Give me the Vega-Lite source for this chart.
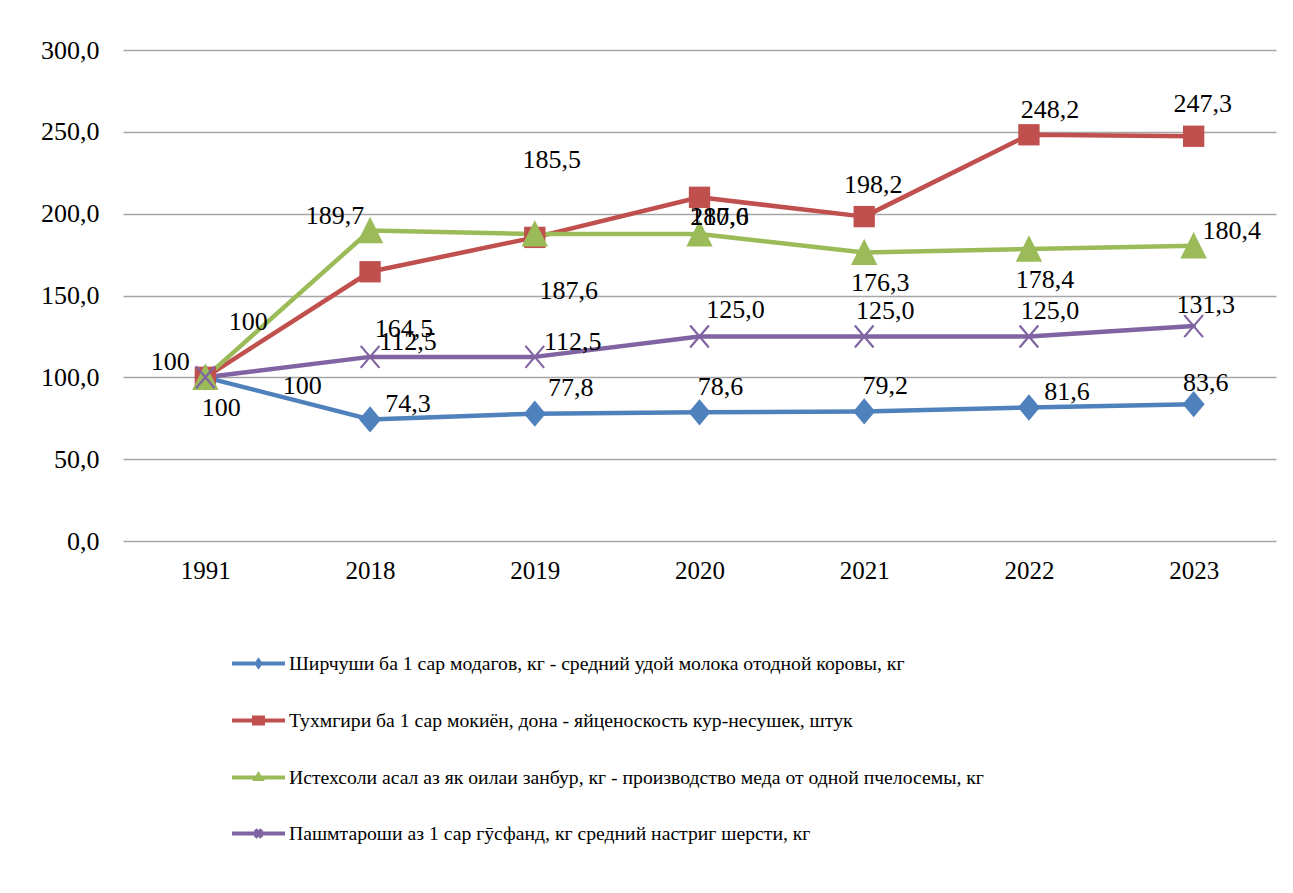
{
  "$schema": "https://vega.github.io/schema/vega-lite/v6.json",
  "autosize": "none",
  "width": 1153,
  "height": 491,
  "padding": {"left": 123, "top": 50, "right": 17, "bottom": 352},
  "background": "white",
  "config": {
    "view": {"stroke": null},
    "font": "Times New Roman, Liberation Serif, serif",
    "axis": {"labelFont": "Times New Roman, Liberation Serif, serif", "labelColor": "#000000"},
    "legend": {"labelFont": "Times New Roman, Liberation Serif, serif"},
    "text": {"font": "Times New Roman, Liberation Serif, serif"}
  },
  "data": {
    "values": [
      {"series": "Ширчуши ба 1 сар модагов, кг - средний удой молока отодной коровы, кг", "year": "1991", "value": 100, "label": "100", "pos": "e1"},
      {"series": "Ширчуши ба 1 сар модагов, кг - средний удой молока отодной коровы, кг", "year": "2018", "value": 74.3, "label": "74,3", "pos": "ne1"},
      {"series": "Ширчуши ба 1 сар модагов, кг - средний удой молока отодной коровы, кг", "year": "2019", "value": 77.8, "label": "77,8", "pos": "ne2"},
      {"series": "Ширчуши ба 1 сар модагов, кг - средний удой молока отодной коровы, кг", "year": "2020", "value": 78.6, "label": "78,6", "pos": "n1"},
      {"series": "Ширчуши ба 1 сар модагов, кг - средний удой молока отодной коровы, кг", "year": "2021", "value": 79.2, "label": "79,2", "pos": "n1"},
      {"series": "Ширчуши ба 1 сар модагов, кг - средний удой молока отодной коровы, кг", "year": "2022", "value": 81.6, "label": "81,6", "pos": "ne1"},
      {"series": "Ширчуши ба 1 сар модагов, кг - средний удой молока отодной коровы, кг", "year": "2023", "value": 83.6, "label": "83,6", "pos": "n2"},
      {"series": "Тухмгири ба 1 сар мокиён, дона - яйценоскость кур-несушек, штук", "year": "1991", "value": 100, "label": "100", "pos": "s1"},
      {"series": "Тухмгири ба 1 сар мокиён, дона - яйценоскость кур-несушек, штук", "year": "2018", "value": 164.5, "label": "164,5", "pos": "s2"},
      {"series": "Тухмгири ба 1 сар мокиён, дона - яйценоскость кур-несушек, штук", "year": "2019", "value": 185.5, "label": "185,5", "pos": "n4"},
      {"series": "Тухмгири ба 1 сар мокиён, дона - яйценоскость кур-несушек, штук", "year": "2020", "value": 210.0, "label": "210,0", "pos": "se1"},
      {"series": "Тухмгири ба 1 сар мокиён, дона - яйценоскость кур-несушек, штук", "year": "2021", "value": 198.2, "label": "198,2", "pos": "n3"},
      {"series": "Тухмгири ба 1 сар мокиён, дона - яйценоскость кур-несушек, штук", "year": "2022", "value": 248.2, "label": "248,2", "pos": "n1"},
      {"series": "Тухмгири ба 1 сар мокиён, дона - яйценоскость кур-несушек, штук", "year": "2023", "value": 247.3, "label": "247,3", "pos": "n3"},
      {"series": "Истехсоли асал аз як оилаи занбур, кг - производство меда от одной пчелосемы, кг", "year": "1991", "value": 100, "label": "100", "pos": "ne4"},
      {"series": "Истехсоли асал аз як оилаи занбур, кг - производство меда от одной пчелосемы, кг", "year": "2018", "value": 189.7, "label": "189,7", "pos": "w1"},
      {"series": "Истехсоли асал аз як оилаи занбур, кг - производство меда от одной пчелосемы, кг", "year": "2019", "value": 187.6, "label": "187,6", "pos": "s2"},
      {"series": "Истехсоли асал аз як оилаи занбур, кг - производство меда от одной пчелосемы, кг", "year": "2020", "value": 187.6, "label": "187,6", "pos": "ne3"},
      {"series": "Истехсоли асал аз як оилаи занбур, кг - производство меда от одной пчелосемы, кг", "year": "2021", "value": 176.3, "label": "176,3", "pos": "s1"},
      {"series": "Истехсоли асал аз як оилаи занбур, кг - производство меда от одной пчелосемы, кг", "year": "2022", "value": 178.4, "label": "178,4", "pos": "s1"},
      {"series": "Истехсоли асал аз як оилаи занбур, кг - производство меда от одной пчелосемы, кг", "year": "2023", "value": 180.4, "label": "180,4", "pos": "ne1"},
      {"series": "Пашмтароши аз 1 сар гӯсфанд, кг средний настриг шерсти, кг", "year": "1991", "value": 100, "label": "100", "pos": "w1"},
      {"series": "Пашмтароши аз 1 сар гӯсфанд, кг средний настриг шерсти, кг", "year": "2018", "value": 112.5, "label": "112,5", "pos": "ne1"},
      {"series": "Пашмтароши аз 1 сар гӯсфанд, кг средний настриг шерсти, кг", "year": "2019", "value": 112.5, "label": "112,5", "pos": "ne1"},
      {"series": "Пашмтароши аз 1 сар гӯсфанд, кг средний настриг шерсти, кг", "year": "2020", "value": 125.0, "label": "125,0", "pos": "ne2"},
      {"series": "Пашмтароши аз 1 сар гӯсфанд, кг средний настриг шерсти, кг", "year": "2021", "value": 125.0, "label": "125,0", "pos": "n1"},
      {"series": "Пашмтароши аз 1 сар гӯсфанд, кг средний настриг шерсти, кг", "year": "2022", "value": 125.0, "label": "125,0", "pos": "n1"},
      {"series": "Пашмтароши аз 1 сар гӯсфанд, кг средний настриг шерсти, кг", "year": "2023", "value": 131.3, "label": "131,3", "pos": "n2"}
    ]
  },
  "encoding": {
    "x": {
      "field": "year",
      "type": "ordinal",
      "scale": {"type": "point", "padding": 0.5},
      "axis": {
        "title": null,
        "labelAngle": 0,
        "labelFontSize": 25,
        "labelPadding": 17,
        "labelBaseline": "top",
        "ticks": false,
        "domain": false,
        "grid": false
      }
    },
    "y": {
      "field": "value",
      "type": "quantitative",
      "scale": {"domain": [0, 300], "nice": false, "zero": true},
      "axis": {
        "title": null,
        "values": [0, 50, 100, 150, 200, 250, 300],
        "labelExpr": "replace(format(datum.value, '.1f'), '.', ',')",
        "labelFontSize": 26,
        "labelPadding": 24,
        "ticks": false,
        "domain": false,
        "grid": true,
        "gridColor": "#A6A6A6",
        "gridWidth": 1.3
      }
    }
  },
  "layer": [
    {
      "mark": {"type": "line", "strokeWidth": 4.5, "strokeJoin": "round", "strokeCap": "round"},
      "encoding": {
        "color": {
          "field": "series",
          "type": "nominal",
          "scale": {
            "domain": [
              "Ширчуши ба 1 сар модагов, кг - средний удой молока отодной коровы, кг",
              "Тухмгири ба 1 сар мокиён, дона - яйценоскость кур-несушек, штук",
              "Истехсоли асал аз як оилаи занбур, кг - производство меда от одной пчелосемы, кг",
              "Пашмтароши аз 1 сар гӯсфанд, кг средний настриг шерсти, кг"
            ],
            "range": ["#4F81BD", "#C0504D", "#9BBB59", "#8064A2"]
          },
          "legend": {
            "title": null,
            "orient": "none",
            "legendX": 107,
            "legendY": 585,
            "direction": "vertical",
            "padding": 0,
            "symbolSize": 2809,
            "symbolStrokeWidth": 4,
            "labelFontSize": 19.7,
            "labelColor": "#000000",
            "labelOffset": 2,
            "labelLimit": 1000,
            "rowPadding": 17,
            "encode": {
              "symbols": {
                "update": {
                  "shape": {"signal": "['M-1,0H1M0,-0.1L0.07,0L0,0.1L-0.07,0Z','M-1,0H1M-0.17,-0.11H0.17V0.11H-0.17Z','M-1,0H1M0,-0.1L0.1,0.06L-0.1,0.06Z','M-1,0H1M-0.12,-0.15L0.12,0.15M-0.12,0.15L0.12,-0.15'][indexof(domain('color'), datum.value)]"},
                  "fill": {"signal": "scale('color', datum.value)"},
                  "stroke": {"signal": "scale('color', datum.value)"},
                  "strokeWidth": {"value": 4},
                  "opacity": {"value": 1},
                  "fillOpacity": {"value": 1}
                }
              }
            }
          }
        }
      }
    },
    {
      "transform": [{"filter": "datum.series === 'Ширчуши ба 1 сар модагов, кг - средний удой молока отодной коровы, кг'"}],
      "mark": {"type": "point", "filled": true, "opacity": 1, "size": 484, "color": "#4F81BD", "shape": "M0,-1.2L1,0L0,1.2L-1,0Z"}
    },
    {
      "transform": [{"filter": "datum.series === 'Тухмгири ба 1 сар мокиён, дона - яйценоскость кур-несушек, штук'"}],
      "mark": {"type": "point", "filled": true, "opacity": 1, "size": 484, "color": "#C0504D", "shape": "M-0.97,-0.97H0.97V0.97H-0.97Z"}
    },
    {
      "transform": [{"filter": "datum.series === 'Истехсоли асал аз як оилаи занбур, кг - производство меда от одной пчелосемы, кг'"}],
      "mark": {"type": "point", "filled": true, "opacity": 1, "size": 484, "color": "#9BBB59", "shape": "M0,-1.25L1.2,1.15L-1.2,1.15Z"}
    },
    {
      "transform": [{"filter": "datum.series === 'Пашмтароши аз 1 сар гӯсфанд, кг средний настриг шерсти, кг'"}],
      "mark": {"type": "point", "filled": false, "opacity": 1, "size": 484, "strokeWidth": 2.2, "color": "#8064A2", "shape": "M-0.85,-1L0.85,1M-0.85,1L0.85,-1"}
    },
    {
      "transform": [{"filter": "datum.pos === 'ne1'"}],
      "mark": {"type": "text", "fontSize": 26, "color": "#000000", "align": "center", "baseline": "middle", "dx": 38, "dy": -15},
      "encoding": {"text": {"field": "label"}}
    },
    {
      "transform": [{"filter": "datum.pos === 'ne2'"}],
      "mark": {"type": "text", "fontSize": 26, "color": "#000000", "align": "center", "baseline": "middle", "dx": 36, "dy": -26},
      "encoding": {"text": {"field": "label"}}
    },
    {
      "transform": [{"filter": "datum.pos === 'n1'"}],
      "mark": {"type": "text", "fontSize": 26, "color": "#000000", "align": "center", "baseline": "middle", "dx": 21, "dy": -25},
      "encoding": {"text": {"field": "label"}}
    },
    {
      "transform": [{"filter": "datum.pos === 'n2'"}],
      "mark": {"type": "text", "fontSize": 26, "color": "#000000", "align": "center", "baseline": "middle", "dx": 12, "dy": -21},
      "encoding": {"text": {"field": "label"}}
    },
    {
      "transform": [{"filter": "datum.pos === 'n3'"}],
      "mark": {"type": "text", "fontSize": 26, "color": "#000000", "align": "center", "baseline": "middle", "dx": 9, "dy": -32},
      "encoding": {"text": {"field": "label"}}
    },
    {
      "transform": [{"filter": "datum.pos === 'se1'"}],
      "mark": {"type": "text", "fontSize": 26, "color": "#000000", "align": "center", "baseline": "middle", "dx": 20, "dy": 20},
      "encoding": {"text": {"field": "label"}}
    },
    {
      "transform": [{"filter": "datum.pos === 'ne3'"}],
      "mark": {"type": "text", "fontSize": 26, "color": "#000000", "align": "center", "baseline": "middle", "dx": 20, "dy": -17},
      "encoding": {"text": {"field": "label"}}
    },
    {
      "transform": [{"filter": "datum.pos === 's1'"}],
      "mark": {"type": "text", "fontSize": 26, "color": "#000000", "align": "center", "baseline": "middle", "dx": 16, "dy": 31},
      "encoding": {"text": {"field": "label"}}
    },
    {
      "transform": [{"filter": "datum.pos === 's2'"}],
      "mark": {"type": "text", "fontSize": 26, "color": "#000000", "align": "center", "baseline": "middle", "dx": 34, "dy": 57},
      "encoding": {"text": {"field": "label"}}
    },
    {
      "transform": [{"filter": "datum.pos === 'n4'"}],
      "mark": {"type": "text", "fontSize": 26, "color": "#000000", "align": "center", "baseline": "middle", "dx": 17, "dy": -77},
      "encoding": {"text": {"field": "label"}}
    },
    {
      "transform": [{"filter": "datum.pos === 'w1'"}],
      "mark": {"type": "text", "fontSize": 26, "color": "#000000", "align": "center", "baseline": "middle", "dx": -35, "dy": -15},
      "encoding": {"text": {"field": "label"}}
    },
    {
      "transform": [{"filter": "datum.pos === 'ne4'"}],
      "mark": {"type": "text", "fontSize": 26, "color": "#000000", "align": "center", "baseline": "middle", "dx": 43, "dy": -55},
      "encoding": {"text": {"field": "label"}}
    },
    {
      "transform": [{"filter": "datum.pos === 'e1'"}],
      "mark": {"type": "text", "fontSize": 26, "color": "#000000", "align": "center", "baseline": "middle", "dx": 97, "dy": 9},
      "encoding": {"text": {"field": "label"}}
    }
  ]
}
